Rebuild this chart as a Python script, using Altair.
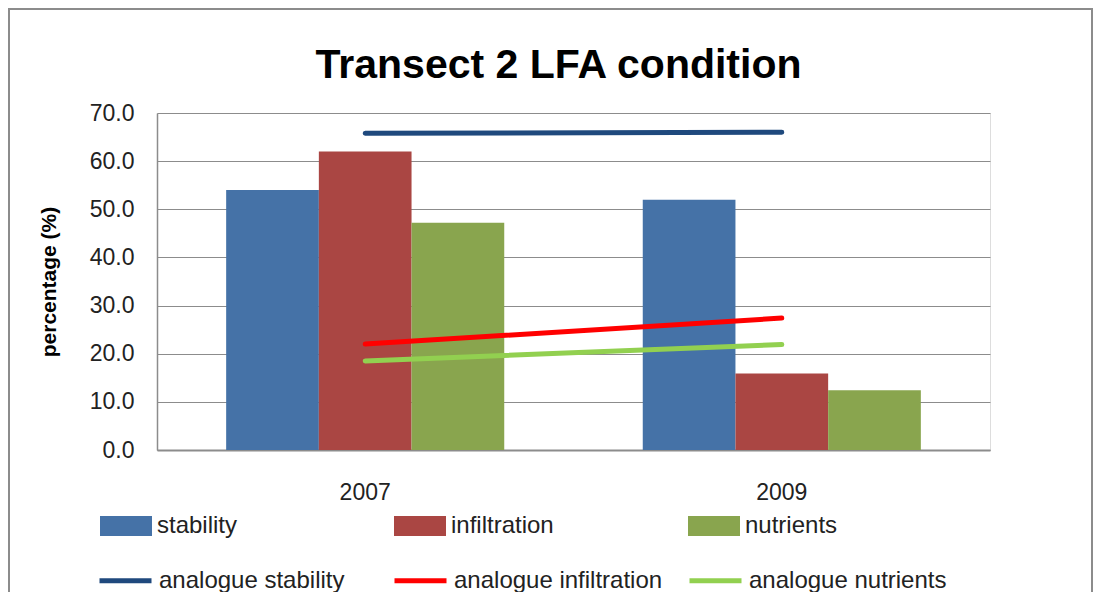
import altair as alt
import pandas as pd

years = ["2007", "2009"]
bar_series = ["stability", "infiltration", "nutrients"]
stability = [54.0, 52.0]
infiltration = [62.0, 15.9]
nutrients = [47.2, 12.4]

line_series = ["analogue stability", "analogue infiltration", "analogue nutrients"]
analogue_stability = [65.8, 66.0]
analogue_infiltration = [22.0, 27.4]
analogue_nutrients = [18.5, 21.9]

y_ticks = [0, 10, 20, 30, 40, 50, 60, 70]

bar_colors = ["#4572A7", "#AA4643", "#89A54E"]
line_colors = ["#1F497D", "#FF0000", "#92D050"]

FONT = "Liberation Sans"

bar_rows = []
for s, vals in zip(bar_series, [stability, infiltration, nutrients]):
    for yr, v in zip(years, vals):
        bar_rows.append({"year": yr, "series": s, "value": v})
bars_df = pd.DataFrame(bar_rows)

line_rows = []
for s, vals in zip(line_series, [analogue_stability, analogue_infiltration, analogue_nutrients]):
    for yr, v in zip(years, vals):
        line_rows.append({"year": yr, "series": s, "value": v})
lines_df = pd.DataFrame(line_rows)

W, H = 833, 337
PAD = {"left": 149, "top": 105, "right": 103, "bottom": 142}

x_scale = alt.Scale(domain=years, paddingInner=0.3325, paddingOuter=0.166)
y_scale = alt.Scale(domain=[0, 70], nice=False)

x_axis = alt.Axis(
    title=None, ticks=False, labelAngle=0, labelFontSize=23, labelFont=FONT,
    labelColor="#222222", labelPadding=31, domainColor="#8c8c8c", domainWidth=2,
    grid=False,
)
y_axis = alt.Axis(
    title="percentage (%)", values=y_ticks, format=".1f", ticks=False,
    labelFontSize=23, labelFont=FONT, labelColor="#222222", labelPadding=23,
    domainColor="#8c8c8c", domainWidth=1.5, gridColor="#8c8c8c", gridWidth=1.2,
    titleFont=FONT, titleFontSize=21, titleFontWeight="bold", titleColor="#000000",
    titlePadding=30,
)

frame = alt.Chart(pd.DataFrame({"k": [0]})).mark_rect(
    fill="transparent", stroke="#8c8c8c", strokeWidth=2
).encode(
    x=alt.value(-PAD["left"] + 1), x2=alt.value(W + PAD["right"] - 1),
    y=alt.value(-PAD["top"] + 1), y2=alt.value(H + 200),
)

bars = alt.Chart(bars_df).mark_bar().encode(
    x=alt.X("year:N", scale=x_scale, axis=x_axis),
    xOffset=alt.XOffset("series:N", sort=bar_series,
                        scale=alt.Scale(domain=bar_series, paddingInner=0, paddingOuter=0)),
    y=alt.Y("value:Q", scale=y_scale, axis=y_axis),
    fill=alt.Fill("series:N", scale=alt.Scale(domain=bar_series, range=bar_colors),
                  legend=alt.Legend(
                      title=None, orient="none", legendX=-57, legendY=387,
                      direction="horizontal", columns=3, gridAlign="all",
                      columnPadding=134, symbolType="M-1,-0.385H1V0.385H-1Z",
                      symbolSize=2704, symbolStrokeWidth=0, symbolOpacity=1,
                      labelFont=FONT, labelFontSize=24, labelColor="#222222",
                      labelOffset=5, padding=0, labelLimit=400,
                  )),
)

lines = alt.Chart(lines_df).mark_line(strokeWidth=5, strokeCap="round").encode(
    x=alt.X("year:N", scale=x_scale, axis=x_axis),
    y=alt.Y("value:Q", scale=y_scale, axis=y_axis),
    stroke=alt.Stroke("series:N", scale=alt.Scale(domain=line_series, range=line_colors),
                      sort=line_series,
                      legend=alt.Legend(
                          title=None, orient="none", legendX=-60, legendY=439,
                          direction="horizontal", columns=3, gridAlign="all",
                          columnPadding=16, symbolType="stroke",
                          symbolSize=2704, symbolStrokeWidth=5,
                          labelFont=FONT, labelFontSize=24, labelColor="#222222",
                          labelOffset=5, padding=0, labelLimit=400,
                      )),
)

chart = alt.layer(frame, bars, lines).resolve_scale(x="shared").properties(
    width=W, height=H,
    padding=PAD,
    autosize=alt.AutoSizeParams(type="none"),
    title=alt.Title(
        "Transect 2 LFA condition",
        font=FONT, fontSize=41, fontWeight="bold",
        color="#000000", anchor="middle", frame="group", dx=-15, offset=-111,
        baseline="alphabetic",
    ),
).configure_view(stroke=None).configure(background="white")

chart.save("out.html", embed_options={"renderer": "svg", "actions": False})
